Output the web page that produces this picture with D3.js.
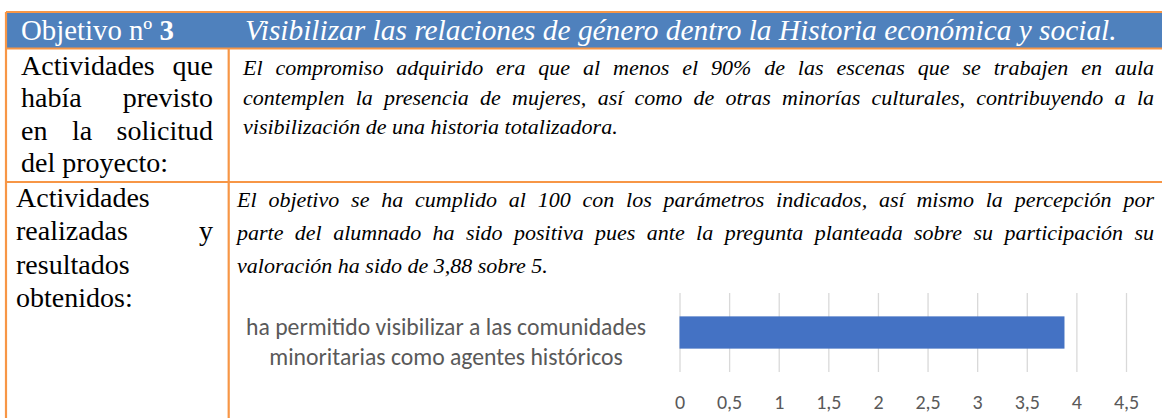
<!DOCTYPE html>
<html>
<head>
<meta charset="utf-8">
<script src="https://cdn.jsdelivr.net/npm/d3@7"></script>
<style>
  body { margin: 0; background: #fff; }
  svg { display: block; }
</style>
</head>
<body>
<script>
// textos de la tabla
const headLeft = 'Objetivo nº '
const headNum = '3'
const headTitle = 'Visibilizar las relaciones de género dentro la Historia económica y social.'
const row1Left = ['Actividades que', 'había previsto', 'en la solicitud', 'del proyecto:']
const row1Right = [
  'El compromiso adquirido era que al menos el 90% de las escenas que se trabajen en aula',
  'contemplen la presencia de mujeres, así como de otras minorías culturales, contribuyendo a la',
  'visibilización de una historia totalizadora.'
]
const row2Left = ['Actividades', 'realizadas y', 'resultados', 'obtenidos:']
const row2Right = [
  'El objetivo se ha cumplido al 100 con los parámetros indicados, así mismo la percepción por',
  'parte del alumnado ha sido positiva pues ante la pregunta planteada sobre su participación su',
  'valoración ha sido de 3,88 sobre 5.'
]

// datos del grafico
const categories = ['ha permitido visibilizar a las comunidades minoritarias como agentes históricos']
const catLines = [['ha permitido visibilizar a las comunidades', 'minoritarias como agentes históricos']]
const values = [3.88]
const ticks = [0, 0.5, 1, 1.5, 2, 2.5, 3, 3.5, 4, 4.5]

const W = 1162
const H = 418
const orange = '#F79646'
const headBlue = '#4F81BD'
const barBlue = '#4472C4'
const serif = '"Liberation Serif", "Times New Roman", serif'
const sans = 'Carlito, Calibri, Lato, "Liberation Sans", sans-serif'

const svg = d3.select('body').append('svg')
  .attr('width', W)
  .attr('height', H)
  .attr('font-family', serif)

// cabecera
svg.append('rect')
  .attr('x', 6).attr('y', 12)
  .attr('width', W).attr('height', 37)
  .attr('fill', headBlue)

const fit = (t, w) => {
  const fs = +t.attr('font-size')
  const nf = fs * w / t.node().getComputedTextLength()
  t.attr('font-size', nf)
  return nf
}

const h1 = svg.append('text')
  .attr('x', 21).attr('y', 40)
  .attr('fill', '#fff')
  .attr('font-family', serif)
  .attr('font-size', 28)
h1.append('tspan').text(headLeft)
h1.append('tspan').attr('font-weight', 'bold').text(headNum)
fit(h1, 153)

const h2 = svg.append('text')
  .attr('x', 245).attr('y', 40)
  .attr('fill', '#fff')
  .attr('font-family', serif)
  .attr('font-style', 'italic')
  .attr('font-size', 28)
  .text(headTitle)
fit(h2, 872)

// lineas justificadas
const drawLines = (lines, x0, x1, y0, dy, italic, fs, lastLeft) => {
  lines.forEach((ln, i) => {
    const words = ln.split(' ')
    const t = svg.append('text')
      .attr('y', y0 + i * dy)
      .attr('fill', '#000')
      .attr('font-family', serif)
      .attr('font-size', fs)
      .attr('font-style', italic ? 'italic' : 'normal')
    const sp = t.selectAll('tspan').data(words).enter().append('tspan').text(d => d)
    const wid = []
    sp.each(function() { wid.push(this.getComputedTextLength()) })
    const justify = words.length > 1 && !lastLeft.includes(i)
    const gap = justify ? (x1 - x0 - d3.sum(wid)) / (words.length - 1) : fs * 0.25
    let x = x0
    sp.attr('x', (d, j) => { const v = x; x += wid[j] + gap; return v })
  })
}

drawLines(row1Left, 21, 213, 75, 32.4, false, 28, [3])
drawLines(row2Left, 16, 213, 207, 33.3, false, 28, [0, 2, 3])
drawLines(row1Right, 243, 1154, 75, 29.5, true, 22, [2])
drawLines(row2Right, 237, 1154, 207, 33, true, 22, [2])

// bordes naranjas
const border = [
  [6, 12, W, 12],
  [6, 48.5, W, 48.5],
  [6, 182, W, 182],
  [6, 12, 6, H],
  [228.7, 48.5, 228.7, H]
]
svg.selectAll('.border')
  .data(border)
  .enter().append('line')
  .attr('class', 'border')
  .attr('x1', d => d[0]).attr('y1', d => d[1])
  .attr('x2', d => d[2]).attr('y2', d => d[3])
  .attr('stroke', orange)
  .attr('stroke-width', 2.2)

// grafico de barras
const x = d3.scaleLinear().domain([0, 4.5]).range([679.5, 1126])
const y = d3.scaleBand().domain(categories).range([293, 372]).padding(0.42)
const es = d3.formatLocale({decimal: ',', thousands: '.', grouping: [3], currency: ['', '€']})

const chart = svg.append('g')

const axis = chart.append('g')
  .attr('transform', 'translate(0,372)')
  .call(d3.axisBottom(x)
    .tickValues(ticks)
    .tickSize(-79)
    .tickPadding(23)
    .tickFormat(es.format('~g')))
axis.select('.domain').remove()
axis.selectAll('.tick line')
  .attr('stroke', '#D9D9D9')
  .attr('stroke-width', 1.3)
axis.selectAll('.tick text')
  .attr('fill', '#595959')
  .style('font-family', sans)
  .style('font-size', '20px')

chart.selectAll('.bar')
  .data(values)
  .enter().append('rect')
  .attr('class', 'bar')
  .attr('x', x(0))
  .attr('y', (d, i) => y(categories[i]))
  .attr('width', d => x(d) - x(0))
  .attr('height', y.bandwidth())
  .attr('fill', barBlue)

const lab = chart.selectAll('.cat')
  .data(categories)
  .enter().append('text')
  .attr('class', 'cat')
  .attr('text-anchor', 'middle')
  .attr('fill', '#595959')
  .attr('font-family', sans)
  .attr('font-size', 20)
lab.selectAll('tspan')
  .data((d, i) => catLines[i].map(s => ({s, c: d})))
  .enter().append('tspan')
  .attr('x', 446)
  .attr('y', (d, j) => y(d.c) + y.bandwidth() / 2 + 2 + j * 30)
  .text(d => d.s)
// ajustar al ancho de la primera linea
lab.each(function() {
  const first = d3.select(this).select('tspan').node()
  const fs = 20 * 400 / first.getComputedTextLength()
  d3.select(this).attr('font-size', fs)
})
</script>
</body>
</html>
